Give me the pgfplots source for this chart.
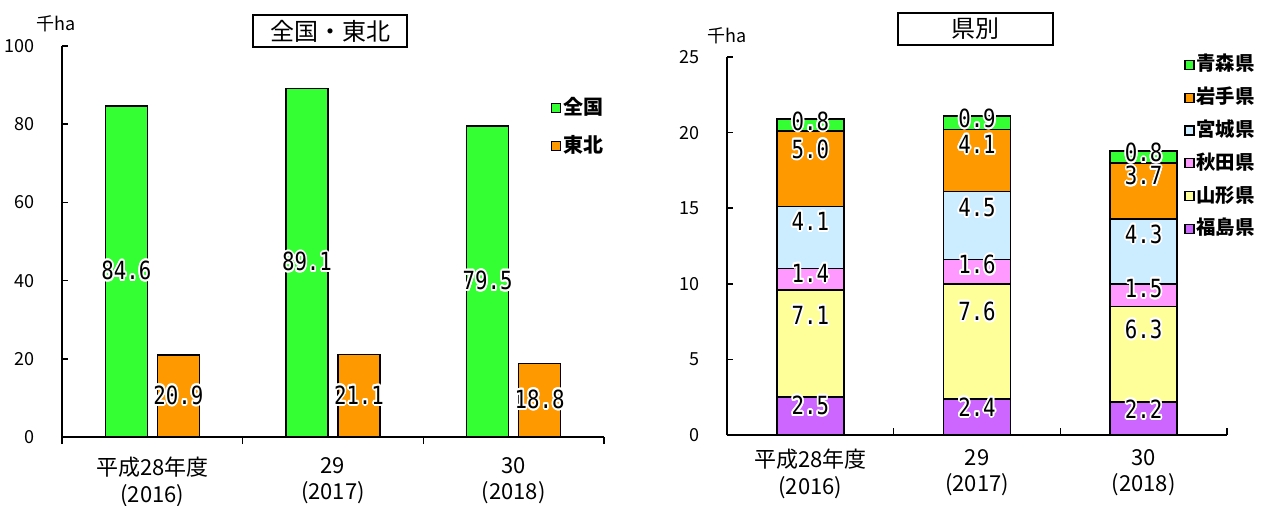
\documentclass[border=0pt]{standalone}
\usepackage{pgfplots}
\pgfplotsset{compat=1.18}
\usepackage{fontspec}
\setmainfont{Noto Sans CJK JP}
\newfontfamily\monofont{DejaVu Sans Mono}
\usepackage[copies]{contour}
\contourlength{1pt}
\definecolor{cgreen}{HTML}{33FF33}
\definecolor{corange}{HTML}{FF9900}
\definecolor{cblue}{HTML}{CCECFF}
\definecolor{cpink}{HTML}{FF99FF}
\definecolor{cyellow}{HTML}{FFFF99}
\definecolor{cpurple}{HTML}{CC66FF}
\newcommand{\barlabel}{\scalebox{0.83}[1]{\contour{white}{\monofont\fontsize{12.5}{12.5}\selectfont\pgfmathprintnumber[fixed,fixed zerofill,precision=1,assume math mode=true]{\pgfplotspointmeta}}}}
\pgfplotsset{
  base/.style={
    scale only axis,
    clip=false,
    axis lines*=left,
    axis line style={line width=1pt},
    tick align=inside,
    major tick length=3pt,
    minor tick length=3.5pt,
    tick style={line width=0.8pt, black},
    major x tick style={draw=none},
    xmin=-0.5, xmax=2.5,
    xtick={0,1,2},
    minor xtick={-0.5,0.5,1.5,2.5},
    xticklabels={{平成28年度\\(2016)},{29\\(2017)},{30\\(2018)}},
    xticklabel style={font=\fontsize{11}{13.2}\selectfont, align=center, yshift=-3.5pt},
    yticklabel style={font=\fontsize{9}{9}\selectfont, xshift=-10pt},
    /pgf/number format/assume math mode=true,
    visualization depends on=rawy \as \rawy,
    point meta=rawy,
    nodes near coords={\barlabel},
  },
  sq/.style={draw=black, line width=0.8pt, fill=#1,
    legend image code/.code={\filldraw[fill=#1, draw=black, line width=0.6pt] (0pt,-2.25pt) rectangle (4.5pt,2.25pt);}},
}
\begin{document}
\begin{tikzpicture}
\useasboundingbox (0,0) rectangle (632.5pt,252.5pt);
% ---------------- left: 全国・東北
\begin{axis}[base,
  at={(31pt,34pt)}, anchor=south west,
  width=271pt, height=195.5pt,
  ymin=0, ymax=100, ytick={0,20,...,100},
  ybar=5pt, bar width=21pt,
  every node near coord/.append style={anchor=center, yshift=-0.9775pt*\rawy, inner sep=0pt},
  legend style={at={(0.902,0.872)}, anchor=north west, draw=none, fill=none,
    font=\fontsize{10}{10}\selectfont\bfseries, row sep=7.5pt, inner sep=0pt,
    nodes={inner sep=0.8pt, text height=8pt, text depth=2pt}},
]
\addplot[sq=cgreen] coordinates {(0,84.6) (1,89.1) (2,79.5)};
\addplot[sq=corange] coordinates {(0,20.9) (1,21.1) (2,18.8)};
\legend{全国,東北}
\node[draw, line width=1pt, minimum width=77pt, minimum height=16pt, inner sep=0pt,
  font=\fontsize{12}{12}\selectfont] at (rel axis cs:0.4945,1.038) {全国・東北};
\node[font=\fontsize{9}{9}\selectfont] at (rel axis cs:-0.0101,1.0575) {千ha};
\end{axis}
% ---------------- right: 県別
\begin{axis}[base,
  at={(363.5pt,35pt)}, anchor=south west,
  width=250pt, height=189pt,
  ymin=0, ymax=25, ytick={0,5,...,25},
  ybar stacked, bar width=33.5pt,
  every node near coord/.append style={anchor=center, yshift=-1.89pt*\rawy, inner sep=0pt},
  reverse legend,
  legend style={at={(0.914,1.0106)}, anchor=north west, draw=none, fill=none,
    font=\fontsize{9.7}{9.7}\selectfont\bfseries, row sep=4.8pt, inner sep=0pt,
    nodes={inner sep=0.8pt, text height=8pt, text depth=2pt}},
]
\addplot[sq=cpurple] coordinates {(0,2.5) (1,2.4) (2,2.2)};
\addplot[sq=cyellow] coordinates {(0,7.1) (1,7.6) (2,6.3)};
\addplot[sq=cpink] coordinates {(0,1.4) (1,1.6) (2,1.5)};
\addplot[sq=cblue] coordinates {(0,4.1) (1,4.5) (2,4.3)};
\addplot[sq=corange] coordinates {(0,5.0) (1,4.1) (2,3.7)};
\addplot[sq=cgreen] coordinates {(0,0.8) (1,0.9) (2,0.8)};
\legend{福島県,山形県,秋田県,宮城県,岩手県,青森県}
\node[draw, line width=1pt, minimum width=77.5pt, minimum height=16pt, inner sep=0pt,
  font=\fontsize{12}{12}\selectfont] at (rel axis cs:0.497,1.074) {県別};
\node[font=\fontsize{9}{9}\selectfont] at (rel axis cs:0.001,1.057) {千ha};
\end{axis}
\end{tikzpicture}
\end{document}
